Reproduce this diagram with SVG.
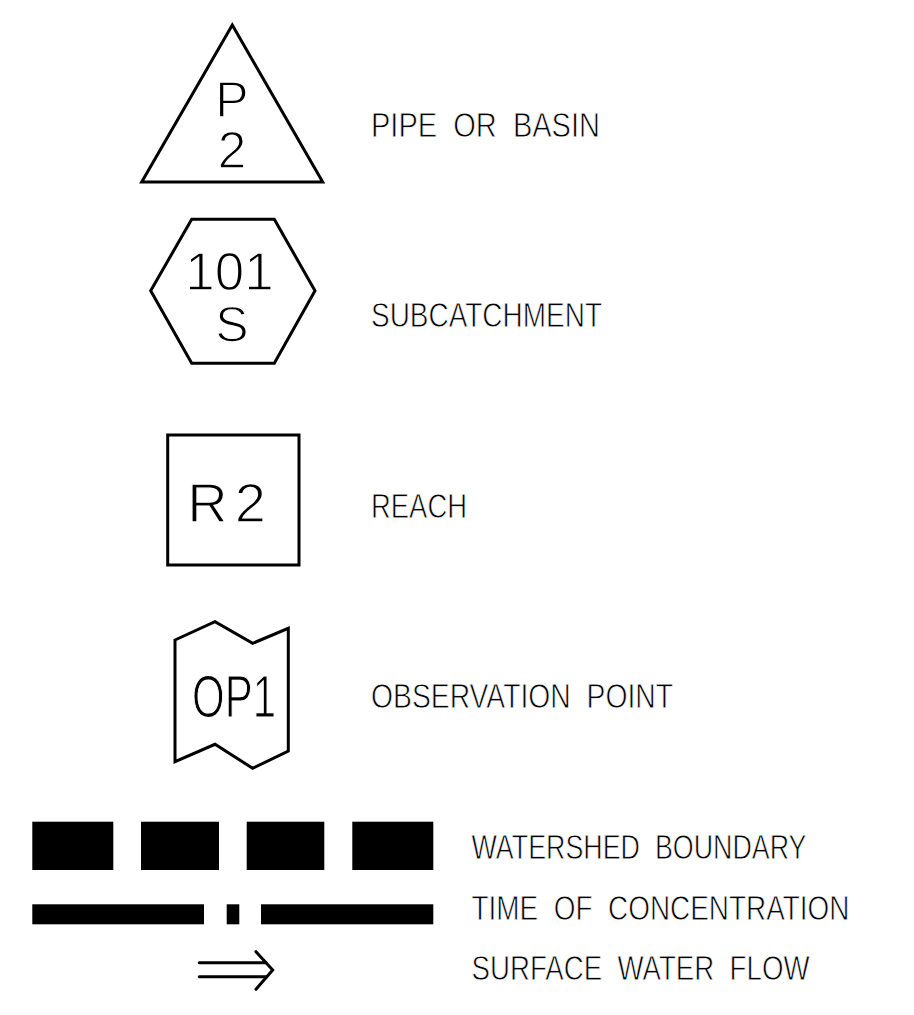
<svg xmlns="http://www.w3.org/2000/svg" width="914" height="1015" viewBox="0 0 914 1015">
  <style>
    .shape { fill: none; stroke: #000; stroke-width: 3; stroke-linejoin: miter; }
    /* white outline drawn over the glyphs gives the thin drafting-pen look */
    .sym { font-family: "Liberation Sans", Arial, sans-serif; fill: #000; text-anchor: middle; stroke: #fff; stroke-width: 1.4; }
    .lbl { font-family: "Liberation Sans", Arial, sans-serif; font-size: 35px; fill: #000; stroke: #fff; stroke-width: 0.8; }
    .bar { fill: #000; }
    .arrow { fill: none; stroke: #000; stroke-width: 3; stroke-linecap: round; }
  </style>
  <rect width="914" height="1015" fill="#fff"/>

  <!-- Pipe or basin -->
  <g id="pipe">
    <polygon class="shape" points="232.3,25 141.7,182 322.7,182"/>
    <text class="sym" x="232" y="116.7" font-size="50">P</text>
    <text class="sym" x="232" y="168.3" font-size="52">2</text>
  </g>

  <!-- Subcatchment -->
  <g id="subcatchment">
    <polygon class="shape" points="191.7,219.3 274.3,219.3 315,290.7 274.3,363.3 191.7,363.3 150.7,290.7"/>
    <text class="sym" x="229.5" y="290" font-size="53">101</text>
    <text class="sym" x="232" y="341.7" font-size="50">S</text>
  </g>

  <!-- Reach -->
  <g id="reach">
    <rect class="shape" x="167.7" y="435" width="131.3" height="130"/>
    <text class="sym" x="230" y="521.7" font-size="56" letter-spacing="7">R2</text>
  </g>

  <!-- Observation point -->
  <g id="observation">
    <polygon class="shape" points="175,640 215,621.7 252.7,643.3 288.3,628.3 288.3,751 252.7,768.3 215,744.3 175,761.7"/>
    <text class="lbl" x="192" y="716.7" style="font-size:60px; stroke-width:1.2" textLength="84" lengthAdjust="spacingAndGlyphs">OP1</text>
  </g>

  <!-- Legend labels -->
  <g id="labels">
    <text class="lbl" x="371" y="136.7" textLength="229" lengthAdjust="spacingAndGlyphs" xml:space="preserve">PIPE  OR  BASIN</text>
    <text class="lbl" x="371" y="327.3" textLength="231" lengthAdjust="spacingAndGlyphs">SUBCATCHMENT</text>
    <text class="lbl" x="371" y="518.3" textLength="96" lengthAdjust="spacingAndGlyphs">REACH</text>
    <text class="lbl" x="371" y="708.3" textLength="302" lengthAdjust="spacingAndGlyphs" xml:space="preserve">OBSERVATION  POINT</text>
    <text class="lbl" x="471.5" y="859.3" textLength="335" lengthAdjust="spacingAndGlyphs" xml:space="preserve">WATERSHED  BOUNDARY</text>
    <text class="lbl" x="471.5" y="920" textLength="378" lengthAdjust="spacingAndGlyphs" xml:space="preserve">TIME  OF  CONCENTRATION</text>
    <text class="lbl" x="471.5" y="980" textLength="338" lengthAdjust="spacingAndGlyphs" xml:space="preserve">SURFACE  WATER  FLOW</text>
  </g>

  <!-- Watershed boundary line -->
  <g id="watershed-boundary">
    <rect class="bar" x="32.3" y="821.7" width="81" height="48.3"/>
    <rect class="bar" x="141" y="821.7" width="78" height="48.3"/>
    <rect class="bar" x="246.7" y="821.7" width="77.6" height="48.3"/>
    <rect class="bar" x="352.3" y="821.7" width="81" height="48.3"/>
  </g>

  <!-- Time of concentration line -->
  <g id="time-of-concentration">
    <rect class="bar" x="32.3" y="904.3" width="171.7" height="20"/>
    <rect class="bar" x="226.7" y="904.3" width="12.6" height="20"/>
    <rect class="bar" x="261" y="904.3" width="172.3" height="20"/>
  </g>

  <!-- Surface water flow arrow -->
  <g id="surface-flow">
    <line class="arrow" x1="199.3" y1="962.7" x2="266" y2="962.7"/>
    <line class="arrow" x1="199.3" y1="976.7" x2="266" y2="976.7"/>
    <polyline class="arrow" points="256,951.7 272.7,970 256,989.3" style="stroke-linejoin:miter"/>
  </g>
</svg>
